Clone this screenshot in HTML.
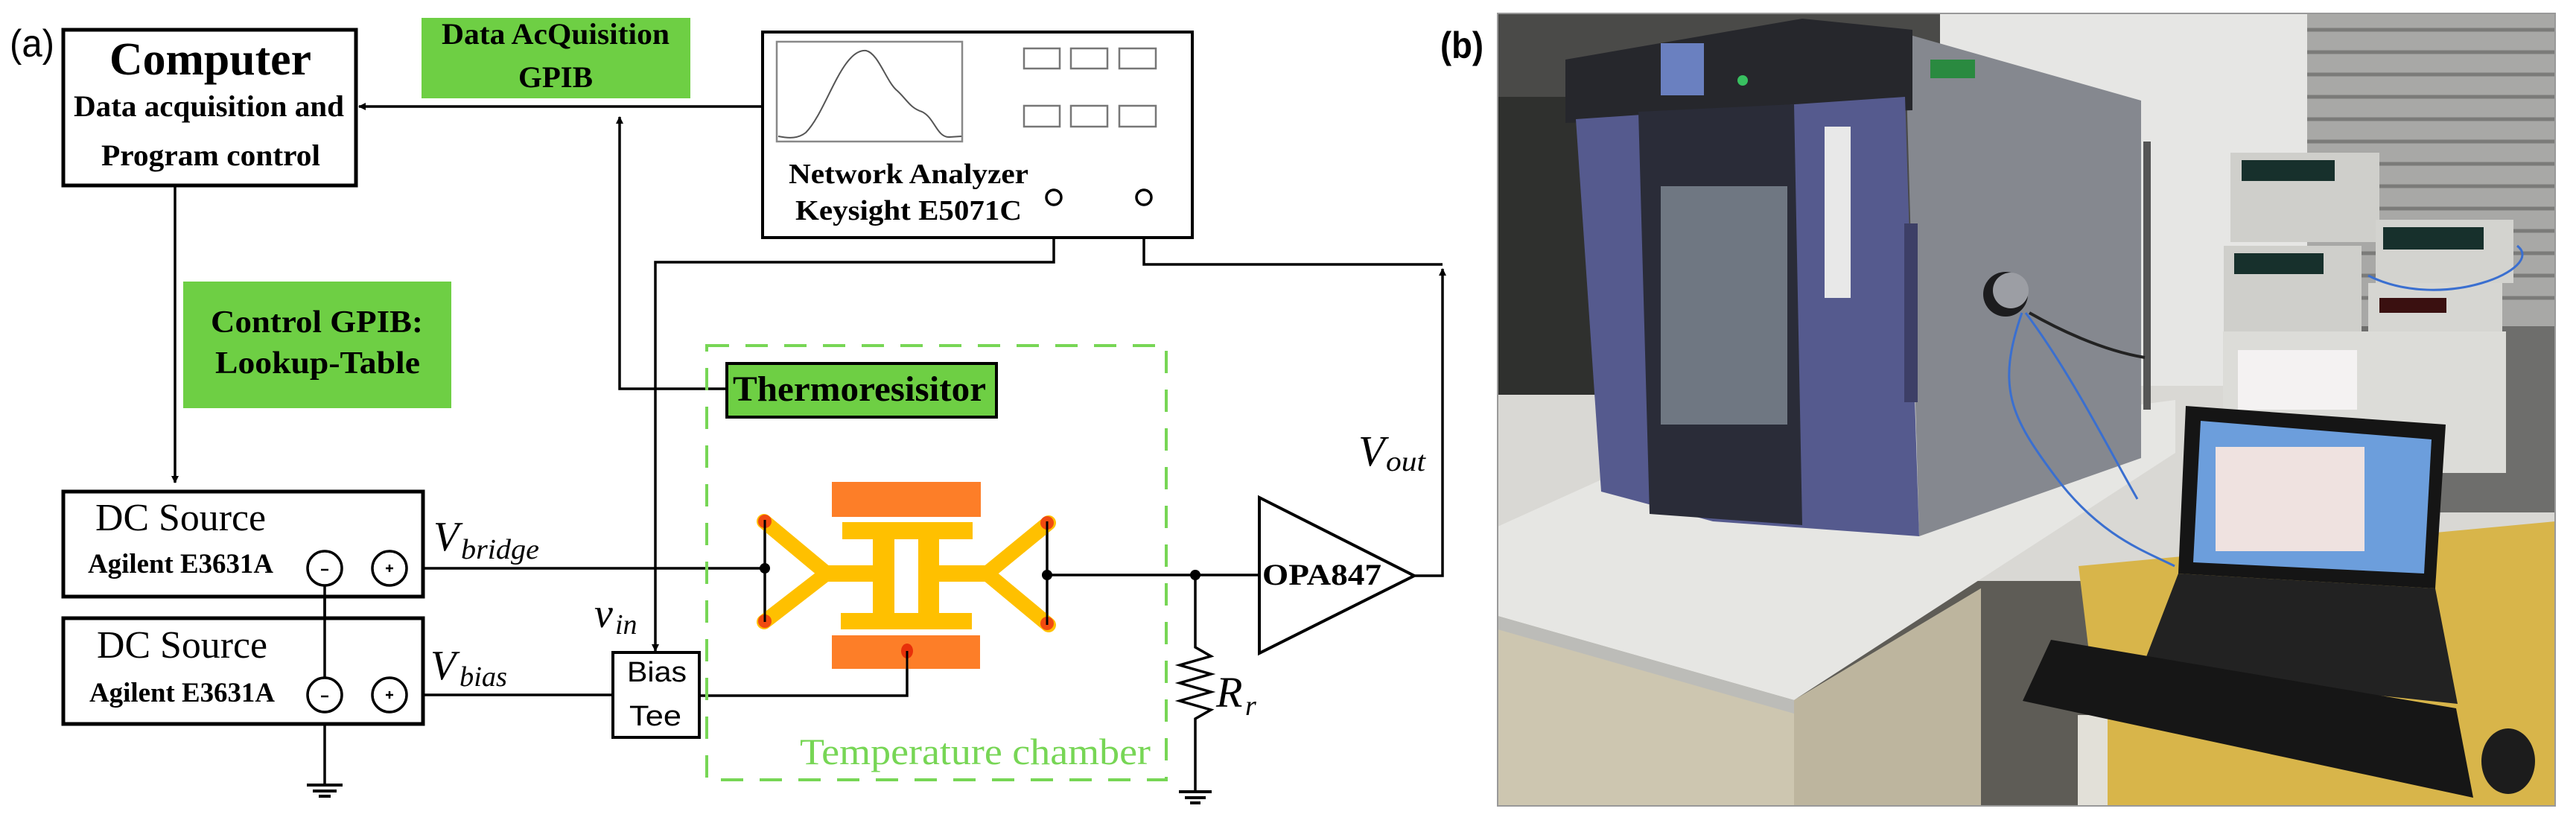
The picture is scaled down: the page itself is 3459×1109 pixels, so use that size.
<!DOCTYPE html>
<html><head><meta charset="utf-8"><style>
html,body{margin:0;padding:0;background:#fff;}
svg{display:block;}
.b{font-family:"Liberation Serif",serif;font-weight:bold;fill:#000;}
.r{font-family:"Liberation Serif",serif;fill:#000;}
.i{font-family:"Liberation Serif",serif;font-style:italic;fill:#000;}
.s{font-family:"Liberation Sans",sans-serif;fill:#000;}
</style></head><body>
<svg width="3459" height="1109" viewBox="0 0 3459 1109" xmlns="http://www.w3.org/2000/svg">
<defs>
<marker id="ah" markerWidth="10" markerHeight="10" refX="9" refY="5" orient="auto" markerUnits="userSpaceOnUse" viewBox="0 0 10 10">
<path d="M0,0 L10,5 L0,10 z" fill="#000"/></marker>
</defs>
<rect width="3459" height="1109" fill="#fff"/>

<text class="s" x="13" y="76" font-size="52" textLength="60" lengthAdjust="spacingAndGlyphs">(a)</text>

<rect x="85" y="40" width="393" height="209" fill="#fff" stroke="#000" stroke-width="5"/>
<text class="b" x="147" y="100" font-size="62" textLength="271" lengthAdjust="spacingAndGlyphs">Computer</text>
<text class="b" x="99" y="156" font-size="40" textLength="363" lengthAdjust="spacingAndGlyphs">Data acquisition and</text>
<text class="b" x="136" y="222" font-size="40" textLength="294" lengthAdjust="spacingAndGlyphs">Program control</text>

<rect x="566" y="24" width="361" height="108" fill="#6ecf44"/>
<text class="b" x="593" y="59" font-size="40" textLength="306" lengthAdjust="spacingAndGlyphs">Data AcQuisition</text>
<text class="b" x="696" y="117" font-size="40" textLength="100" lengthAdjust="spacingAndGlyphs">GPIB</text>

<rect x="246" y="378" width="360" height="170" fill="#6ecf44"/>
<text class="b" x="283" y="446" font-size="42" textLength="285" lengthAdjust="spacingAndGlyphs">Control GPIB:</text>
<text class="b" x="289" y="501" font-size="42" textLength="275" lengthAdjust="spacingAndGlyphs">Lookup-Table</text>

<g stroke="#000" stroke-width="3.5" fill="none">
<line x1="1024" y1="143" x2="482" y2="143" marker-end="url(#ah)"/>
<polyline points="976,522 832,522 832,157" marker-end="url(#ah)"/>
<line x1="235" y1="249" x2="235" y2="648" marker-end="url(#ah)"/>
<polyline points="1415,276 1415,352 880,352 880,874" marker-end="url(#ah)"/>
<polyline points="1536,276 1536,355 1937,355"/>
<polyline points="1899,773 1937,773 1937,361" marker-end="url(#ah)"/>
<line x1="548" y1="763" x2="1027" y2="763"/>
<line x1="548" y1="933" x2="823" y2="933"/>
<polyline points="939,934 1218,934 1218,874"/>
<line x1="1406" y1="772" x2="1691" y2="772"/>
<line x1="436" y1="787" x2="436" y2="909"/>
<line x1="436" y1="957" x2="436" y2="1053"/>
<polyline points="1605,772 1605,869 1626,881 1584,893 1626,905 1584,917 1626,929 1584,941 1626,953 1605,965 1605,1062"/>
<line x1="1027" y1="698" x2="1027" y2="835"/>
<line x1="1406" y1="700" x2="1406" y2="839"/>
</g>
<g stroke="#000" stroke-width="4">
<line x1="412" y1="1054" x2="460" y2="1054"/><line x1="420" y1="1062" x2="452" y2="1062"/><line x1="428" y1="1069" x2="444" y2="1069"/>
<line x1="1583" y1="1063" x2="1627" y2="1063"/><line x1="1591" y1="1071" x2="1619" y2="1071"/><line x1="1598" y1="1078" x2="1612" y2="1078"/>
</g>

<rect x="1024" y="43" width="577" height="276" fill="#fff" stroke="#000" stroke-width="4"/>
<rect x="1043" y="56" width="249" height="134" fill="#fff" stroke="#888" stroke-width="2.5"/>
<path d="M1045,183 C1060,186 1072,186 1082,178 C1110,150 1130,65 1163,68 C1180,72 1190,110 1205,122 C1218,134 1222,145 1238,150 C1255,158 1258,185 1275,184 L1291,183" fill="none" stroke="#555" stroke-width="2"/>
<g fill="#fff" stroke="#777" stroke-width="2.5">
<rect x="1375" y="65" width="48" height="27"/><rect x="1438" y="65" width="49" height="27"/><rect x="1503" y="65" width="49" height="27"/>
<rect x="1375" y="142" width="48" height="28"/><rect x="1438" y="142" width="49" height="28"/><rect x="1503" y="142" width="49" height="28"/>
</g>
<text class="b" x="1059" y="246" font-size="38" textLength="322" lengthAdjust="spacingAndGlyphs">Network Analyzer</text>
<text class="b" x="1068" y="295" font-size="38" textLength="304" lengthAdjust="spacingAndGlyphs">Keysight E5071C</text>
<circle cx="1415" cy="265" r="10" fill="#fff" stroke="#000" stroke-width="3.5"/>
<circle cx="1536" cy="265" r="10" fill="#fff" stroke="#000" stroke-width="3.5"/>

<rect x="949" y="464" width="617" height="583" fill="none" stroke="#77d655" stroke-width="4" stroke-dasharray="30 22"/>
<text class="r" x="1074" y="1026" font-size="50" style="fill:#77d655" textLength="471" lengthAdjust="spacingAndGlyphs">Temperature chamber</text>

<rect x="976" y="488" width="362" height="72" fill="#6ecf44" stroke="#000" stroke-width="4"/>
<text class="b" x="984" y="538" font-size="48" textLength="340" lengthAdjust="spacingAndGlyphs">Thermoresisitor</text>

<rect x="1117" y="647" width="200" height="47" fill="#fd7e28"/>
<rect x="1117" y="853" width="199" height="45" fill="#fd7e28"/>
<rect x="1131" y="701" width="175" height="23" fill="#ffc000"/>
<rect x="1129" y="823" width="176" height="22" fill="#ffc000"/>
<rect x="1172" y="724" width="29" height="99" fill="#ffc000"/>
<rect x="1233" y="724" width="28" height="99" fill="#ffc000"/>
<rect x="1104" y="759" width="70" height="22" fill="#ffc000"/>
<rect x="1259" y="759" width="70" height="22" fill="#ffc000"/>
<g stroke="#ffc000" stroke-width="20" stroke-linecap="round" fill="none">
<polyline points="1026,700 1110,770 1026,835"/>
<polyline points="1408,702 1325,770 1408,839"/>
</g>
<g fill="#f04a10">
<circle cx="1027" cy="700" r="9"/><circle cx="1027" cy="834" r="9"/>
<circle cx="1406" cy="702" r="9"/><circle cx="1406" cy="837" r="9"/>
<ellipse cx="1218" cy="874" rx="8" ry="10" fill="#e8300a"/>
</g>
<g stroke="#000" stroke-width="3"><line x1="1027" y1="698" x2="1027" y2="835"/><line x1="1406" y1="700" x2="1406" y2="839"/><line x1="1218" y1="874" x2="1218" y2="934"/></g>
<circle cx="1027" cy="763" r="7" fill="#000"/>
<circle cx="1406" cy="772" r="7" fill="#000"/>
<circle cx="1605" cy="772" r="7" fill="#000"/>

<polygon points="1691,668 1899,773 1691,877" fill="#fff" stroke="#000" stroke-width="4"/>
<text class="b" x="1695" y="785" font-size="40" textLength="160" lengthAdjust="spacingAndGlyphs">OPA847</text>
<text class="i" x="1824" y="625" font-size="58">V</text>
<text class="i" x="1861" y="632" font-size="38" textLength="53" lengthAdjust="spacingAndGlyphs">out</text>
<text class="i" x="1633" y="949" font-size="58">R</text>
<text class="i" x="1672" y="960" font-size="38">r</text>

<rect x="85" y="660" width="483" height="141" fill="#fff" stroke="#000" stroke-width="5"/>
<rect x="85" y="830" width="483" height="142" fill="#fff" stroke="#000" stroke-width="5"/>
<text class="r" x="128" y="712" font-size="52" textLength="229" lengthAdjust="spacingAndGlyphs">DC Source</text>
<text class="b" x="118" y="769" font-size="37" textLength="249" lengthAdjust="spacingAndGlyphs">Agilent E3631A</text>
<text class="r" x="130" y="883" font-size="52" textLength="229" lengthAdjust="spacingAndGlyphs">DC Source</text>
<text class="b" x="120" y="942" font-size="37" textLength="249" lengthAdjust="spacingAndGlyphs">Agilent E3631A</text>
<g fill="#fff" stroke="#000" stroke-width="3.5">
<circle cx="436" cy="763" r="23"/><circle cx="523" cy="763" r="23"/>
<circle cx="436" cy="933" r="23"/><circle cx="523" cy="933" r="23"/>
</g>
<g stroke="#000" stroke-width="2.5">
<line x1="431" y1="765" x2="441" y2="765"/><line x1="431" y1="935" x2="441" y2="935"/>
<line x1="518" y1="763" x2="528" y2="763"/><line x1="523" y1="758" x2="523" y2="768"/>
<line x1="518" y1="933" x2="528" y2="933"/><line x1="523" y1="928" x2="523" y2="938"/>
</g>
<line x1="436" y1="787" x2="436" y2="909" stroke="#000" stroke-width="3.5"/>
<text class="i" x="582" y="739" font-size="56">V</text>
<text class="i" x="619" y="750" font-size="38" textLength="105" lengthAdjust="spacingAndGlyphs">bridge</text>
<text class="i" x="578" y="912" font-size="56">V</text>
<text class="i" x="617" y="921" font-size="38" textLength="64" lengthAdjust="spacingAndGlyphs">bias</text>
<text class="i" x="798" y="842" font-size="56">v</text>
<text class="i" x="826" y="851" font-size="38">in</text>

<rect x="823" y="876" width="116" height="114" fill="#fff" stroke="#000" stroke-width="4"/>
<text class="s" x="842" y="915" font-size="38" textLength="80" lengthAdjust="spacingAndGlyphs">Bias</text>
<text class="s" x="845" y="974" font-size="38" textLength="70" lengthAdjust="spacingAndGlyphs">Tee</text>

<text class="s" x="1934" y="78" font-size="50" font-weight="bold" textLength="58" lengthAdjust="spacingAndGlyphs">(b)</text>

<g>
<clipPath id="pc"><rect x="2011" y="18" width="1420" height="1064"/></clipPath>
<g clip-path="url(#pc)">
<rect x="2011" y="18" width="1420" height="1064" fill="#d9d8d4"/>
<rect x="2011" y="18" width="600" height="480" fill="#4a4a48"/>
<rect x="2011" y="130" width="150" height="400" fill="#2f302e"/>
<rect x="2605" y="18" width="500" height="500" fill="#e6e6e4"/>
<rect x="3098" y="18" width="333" height="420" fill="#a8a8a6"/>
<g stroke="#7b7b79" stroke-width="5">
<line x1="3098" y1="40" x2="3431" y2="40"/><line x1="3098" y1="70" x2="3431" y2="70"/><line x1="3098" y1="100" x2="3431" y2="100"/><line x1="3098" y1="130" x2="3431" y2="130"/><line x1="3098" y1="160" x2="3431" y2="160"/><line x1="3098" y1="190" x2="3431" y2="190"/><line x1="3098" y1="220" x2="3431" y2="220"/><line x1="3098" y1="250" x2="3431" y2="250"/><line x1="3098" y1="280" x2="3431" y2="280"/><line x1="3098" y1="310" x2="3431" y2="310"/><line x1="3098" y1="340" x2="3431" y2="340"/><line x1="3098" y1="370" x2="3431" y2="370"/><line x1="3098" y1="400" x2="3431" y2="400"/>
</g>
<rect x="3098" y="438" width="333" height="250" fill="#6e6e6c"/>
<rect x="2011" y="780" width="1420" height="302" fill="#5e5c56"/>
<polygon points="2011,827 2409,940 2660,790 2660,1082 2011,1082" fill="#cdc6b0"/>
<polygon points="2409,940 2660,790 2660,1082 2409,1082" fill="#bdb59e"/>
<polygon points="2011,707 2168,636 2921,537 2921,608 2409,940 2011,827" fill="#e6e6e3"/>
<polygon points="2011,827 2409,940 2409,958 2011,845" fill="#bcbcb8"/>
<polygon points="2791,760 3431,700 3431,1082 2830,1082" fill="#d8b54a"/>
<rect x="2790" y="960" width="40" height="122" fill="#e2e0d8"/>
<polygon points="2558,45 2875,135 2875,615 2577,720" fill="#85888f"/>
<rect x="2878" y="190" width="10" height="360" fill="#555"/>
<polygon points="2102,80 2420,25 2568,40 2568,148 2102,165" fill="#26272c"/>
<rect x="2230" y="58" width="58" height="70" fill="#6a80c0"/>
<circle cx="2340" cy="108" r="7" fill="#38c060"/>
<rect x="2592" y="80" width="60" height="25" fill="#2a8a40"/>
<polygon points="2116,160 2558,130 2577,720 2300,700 2150,660" fill="#555a8e"/>
<polygon points="2200,150 2409,140 2420,705 2215,690" fill="#2a2c38"/>
<rect x="2230" y="250" width="170" height="320" fill="#6f7782"/>
<rect x="2450" y="170" width="35" height="230" fill="#e8e8e8"/>
<rect x="2557" y="300" width="18" height="240" fill="#3d3f66"/>
<circle cx="2693" cy="395" r="30" fill="#1c1c1e"/>
<circle cx="2700" cy="390" r="24" fill="#9c9ea4"/>
<rect x="2995" y="205" width="200" height="120" fill="#cfcfcb"/>
<rect x="3010" y="215" width="125" height="28" fill="#17302c"/>
<rect x="2986" y="330" width="185" height="115" fill="#cfcfcb"/>
<rect x="3000" y="340" width="120" height="28" fill="#17302c"/>
<rect x="3190" y="295" width="185" height="85" fill="#d3d3cf"/>
<rect x="3200" y="305" width="135" height="30" fill="#17302c"/>
<rect x="3180" y="380" width="180" height="85" fill="#d6d6d2"/>
<rect x="3195" y="400" width="90" height="20" fill="#3a1010"/>
<rect x="2985" y="445" width="380" height="190" fill="#dcdcd8"/>
<rect x="3005" y="470" width="160" height="80" fill="#f4f2f2"/>
<polygon points="2935,545 3284,570 3270,790 2925,770" fill="#151515"/>
<polygon points="2955,565 3265,590 3255,770 2945,755" fill="#6c9edc"/>
<rect x="2975" y="600" width="200" height="140" fill="#efe2e0"/>
<polygon points="2925,770 3270,790 3300,945 2875,900" fill="#222"/>
<polygon points="2754,859 3298,951 3321,1071 2716,941" fill="#161616"/>
<ellipse cx="3368" cy="1022" rx="36" ry="44" fill="#1c1c1c"/>
<g fill="none" stroke="#3a6fd0" stroke-width="3">
<path d="M2715,420 C2680,520 2700,560 2760,640 C2820,720 2880,740 2920,760"/>
<path d="M2720,420 C2780,500 2830,600 2870,670"/>
<path d="M3180,370 C3280,420 3420,360 3380,330"/>
</g>
<path d="M2725,420 C2760,440 2820,470 2880,480" stroke="#222" stroke-width="4" fill="none"/>
</g>
<rect x="2011" y="18" width="1420" height="1064" fill="none" stroke="#999" stroke-width="2"/>
</g>
</svg>
</body></html>
